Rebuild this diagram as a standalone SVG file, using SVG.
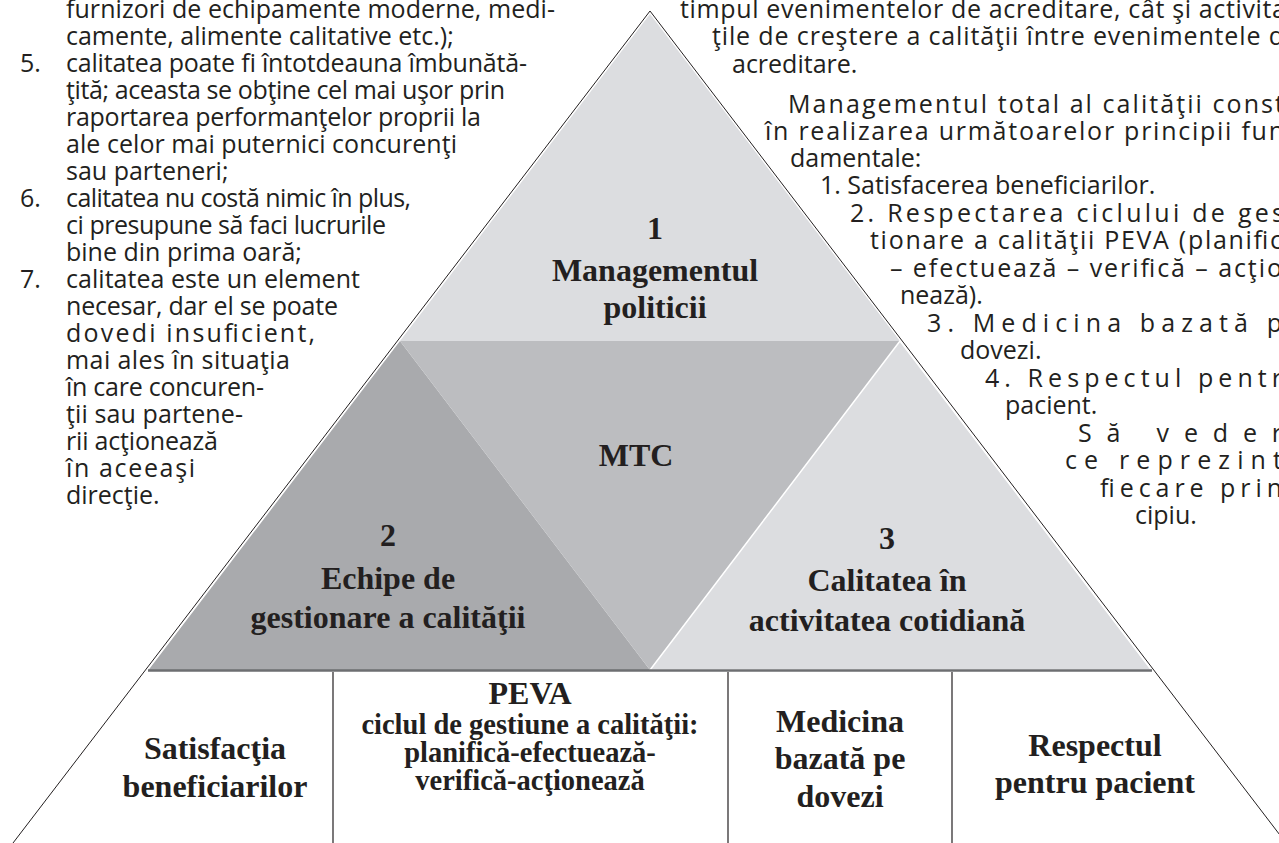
<svg xmlns="http://www.w3.org/2000/svg" width="1279" height="843" viewBox="0 0 1279 843">
<style>
.b{font-family:"Open Sans","Noto Sans",sans-serif;font-size:25px;fill:#231f20}
.l{font-family:"Liberation Serif","Times New Roman",serif;font-weight:bold;font-size:32px;fill:#231f20;text-anchor:middle}
.s{font-size:28.5px}
.ol{stroke:#231f20;stroke-width:1;fill:none}
.dv{stroke:#231f20;stroke-width:1.2}
</style>
<rect width="1279" height="843" fill="#ffffff"/>
<g id="shapes">
<polygon id="top" points="650,14 400,341 900,341" fill="#dcdde0"/>
<polygon id="left" points="400,341 148.5,670 650,670" fill="#a9aaad"/>
<polygon id="mid" points="400,341 900,341 650,670" fill="#bcbdc0"/>
<polygon id="right" points="900,341 1151.5,670 650,670" fill="#dcdde0" stroke="#ffffff" stroke-width="1.5"/>
<line x1="148" y1="670.5" x2="1152" y2="670.5" stroke="#6d6e71" stroke-width="2.5"/>
</g>
<g id="connectors">
<polyline class="ol" points="13,843 650,11 1286,843"/>
<line class="dv" x1="333" y1="672" x2="333" y2="843"/>
<line class="dv" x1="728" y1="672" x2="728" y2="843"/>
<line class="dv" x1="952" y1="672" x2="952" y2="843"/>
</g>
<g id="left-text" class="b">
<text x="66" y="18" textLength="489" lengthAdjust="spacing">furnizori de echipamente moderne, medi-</text>
<text x="66" y="45">camente, alimente calitative etc.);</text>
<text x="20" y="72">5.</text>
<text x="66" y="72" textLength="461" lengthAdjust="spacing">calitatea poate fi întotdeauna îmbunătă-</text>
<text x="66" y="99" textLength="439" lengthAdjust="spacing">ţită; aceasta se obţine cel mai uşor prin</text>
<text x="66" y="126" textLength="415" lengthAdjust="spacing">raportarea performanţelor proprii la</text>
<text x="66" y="153" textLength="391" lengthAdjust="spacing">ale celor mai puternici concurenţi</text>
<text x="66" y="180">sau parteneri;</text>
<text x="20" y="207">6.</text>
<text x="66" y="207" textLength="345" lengthAdjust="spacing">calitatea nu costă nimic în plus,</text>
<text x="66" y="234" textLength="320" lengthAdjust="spacing">ci presupune să faci lucrurile</text>
<text x="66" y="261">bine din prima oară;</text>
<text x="20" y="288">7.</text>
<text x="66" y="288" textLength="294" lengthAdjust="spacing">calitatea este un element</text>
<text x="66" y="315" textLength="272" lengthAdjust="spacing">necesar, dar el se poate</text>
<text x="66" y="342" textLength="249" lengthAdjust="spacing">dovedi insuficient,</text>
<text x="66" y="369" textLength="224" lengthAdjust="spacing">mai ales în situaţia</text>
<text x="66" y="396" textLength="198" lengthAdjust="spacing">în care concuren-</text>
<text x="66" y="423" textLength="177" lengthAdjust="spacing">ţii sau partene-</text>
<text x="66" y="450" textLength="152" lengthAdjust="spacing">rii acţionează</text>
<text x="66" y="477" textLength="129" lengthAdjust="spacing">în aceeaşi</text>
<text x="66" y="504">direcţie.</text>
</g>
<g id="right-text" class="b">
<text x="680" y="18" textLength="606" lengthAdjust="spacing">timpul evenimentelor de acreditare, cât şi activita</text>
<text x="712" y="45" textLength="572" lengthAdjust="spacing">ţile de creştere a calităţii între evenimentele d</text>
<text x="732" y="73">acreditare.</text>
<text x="788" y="113" textLength="496" lengthAdjust="spacing">Managementul total al calităţii const</text>
<text x="765" y="140" textLength="519" lengthAdjust="spacing">în realizarea următoarelor principii fun</text>
<text x="790" y="167">damentale:</text>
<text x="820" y="194">1. Satisfacerea beneficiarilor.</text>
<text x="850" y="222" textLength="434" lengthAdjust="spacing">2. Respectarea ciclului de ges</text>
<text x="870" y="249" textLength="412" lengthAdjust="spacing">tionare a calităţii PEVA  (planific</text>
<text x="890" y="277" textLength="392" lengthAdjust="spacing">– efectuează – verifică – acţio</text>
<text x="900" y="304">nează).</text>
<text x="927" y="332" textLength="355" lengthAdjust="spacing">3. Medicina bazată p</text>
<text x="960" y="359">dovezi.</text>
<text x="985" y="387" textLength="297" lengthAdjust="spacing">4. Respectul pentr</text>
<text x="1005" y="414">pacient.</text>
<text x="1078" y="442" textLength="204" lengthAdjust="spacing">Să veder</text>
<text x="1065" y="469" textLength="217" lengthAdjust="spacing">ce reprezint</text>
<text x="1100" y="497" textLength="182" lengthAdjust="spacing">fiecare prin</text>
<text x="1135" y="524">cipiu.</text>
</g>
<g id="node-1" class="l">
<text x="655" y="239">1</text>
<text x="655" y="281">Managementul</text>
<text x="655" y="318">politicii</text>
</g>
<g id="node-mtc" class="l">
<text x="636" y="466">MTC</text>
</g>
<g id="node-2" class="l">
<text x="388" y="546">2</text>
<text x="388" y="589">Echipe de</text>
<text x="388" y="628">gestionare a calităţii</text>
</g>
<g id="node-3" class="l">
<text x="887" y="549">3</text>
<text x="887" y="591">Calitatea în</text>
<text x="887" y="631">activitatea cotidiană</text>
</g>
<g id="node-satisfactia" class="l">
<text x="215" y="759">Satisfacţia</text>
<text x="215" y="797">beneficiarilor</text>
</g>
<g id="node-peva" class="l">
<text x="530" y="704">PEVA</text>
<text class="s" x="530" y="734">ciclul de gestiune a calităţii:</text>
<text class="s" x="530" y="762">planifică-efectuează-</text>
<text class="s" x="530" y="790">verifică-acţionează</text>
</g>
<g id="node-medicina" class="l">
<text x="840" y="732">Medicina</text>
<text x="840" y="769">bazată pe</text>
<text x="840" y="807">dovezi</text>
</g>
<g id="node-respectul" class="l">
<text x="1095" y="756">Respectul</text>
<text x="1095" y="793">pentru pacient</text>
</g>
</svg>
